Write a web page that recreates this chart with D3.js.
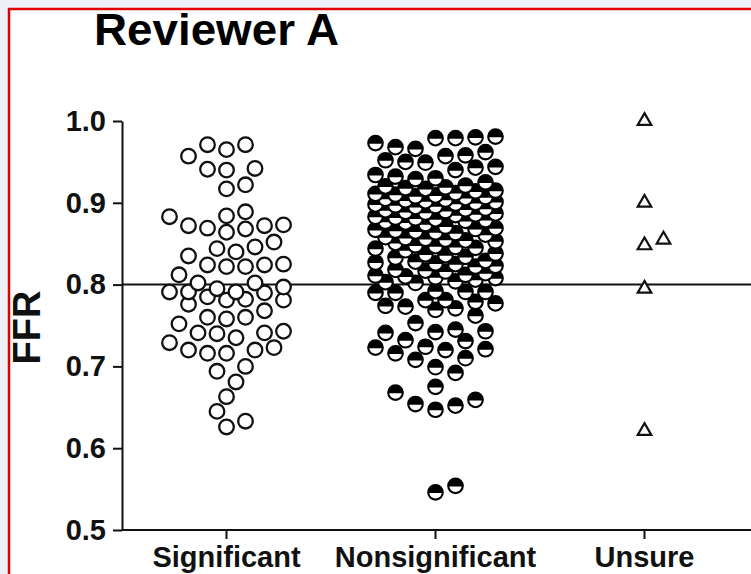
<!DOCTYPE html>
<html><head><meta charset="utf-8">
<script src="https://cdn.jsdelivr.net/npm/d3@7/dist/d3.min.js"></script>
<style>
html,body{margin:0;padding:0;background:#eef2f8;}
svg{display:block;font-family:"Liberation Sans",Arial,sans-serif;}
</style></head>
<body><svg id="c" width="751" height="574"></svg>
<script>
const title = "Reviewer A";
const yLabel = "FFR";
const categories = ["Significant", "Nonsignificant", "Unsure"];
const yTicks = [0.5, 0.6, 0.7, 0.8, 0.9, 1.0];
const cutoff = 0.8;

const significant = [
  0.971,0.965,0.971,0.957,0.941,0.940,0.942,0.917,0.922,
  0.883,0.889,0.884,0.872,0.869,0.864,0.868,0.872,0.873,
  0.846,0.840,0.835,0.844,0.852,0.825,0.822,0.824,0.822,0.824,
  0.812,0.802,0.802,0.797,0.795,0.791,0.791,0.790,0.791,
  0.782,0.781,0.776,0.781,0.785,0.768,0.760,0.752,0.758,0.760,
  0.740,0.741,0.743,0.741,0.729,0.720,0.716,0.720,0.723,0.735,0.716,
  0.694,0.700,0.681,0.663,0.645,0.626,0.633
];

const nonsignificant = [
  0.980,0.979,0.968,0.973,0.979,0.981,
  0.962,0.957,0.950,0.949,0.943,0.952,0.958,0.966,
  0.944,0.934,0.930,0.929,0.932,0.940,0.925,
  0.919,0.917,0.921,0.914,0.918,0.915,0.920,
  0.912,0.909,0.907,0.905,0.911,0.904,0.903,0.910,0.902,0.901,0.898,0.906,0.897,0.900,0.896,0.908,0.899,0.895,
  0.893,0.891,0.888,0.892,0.887,0.890,0.886,0.889,0.885,
  0.883,0.880,0.879,0.882,0.877,0.881,0.876,0.878,0.874,
  0.871,0.869,0.866,0.868,0.864,0.867,0.863,0.865,0.861,
  0.858,0.856,0.854,0.857,0.853,0.855,0.851,
  0.848,0.846,0.844,0.847,0.842,0.845,
  0.838,0.836,0.834,0.837,0.833,
  0.829,0.827,0.825,0.828,0.823,0.826,0.822,
  0.818,0.816,0.814,0.817,0.812,
  0.811,0.810,0.808,0.803,0.802,0.809,0.806,0.804,
  0.791,0.790,0.781,0.779,0.791,0.781,0.790,0.792,
  0.774,0.771,0.762,0.769,0.773,0.777,
  0.753,0.743,0.741,0.731,0.745,0.732,0.742,
  0.721,0.716,0.708,0.723,0.724,0.720,0.710,0.699,0.692,
  0.675,0.668,0.659,0.652,0.647,0.654,
  0.546,0.554
];

const unsure = [1.0, 0.90, 0.848, 0.855, 0.795, 0.621];

const svg = d3.select("#c");
const W = 751, H = 574;
const mLeft = 122, mRight = 749, mTop = 121, mBottom = 530;

// frame
svg.append("rect").attr("x", 9).attr("y", 9).attr("width", W + 20).attr("height", H + 20)
  .attr("fill", "#fff").attr("stroke", "#e00000").attr("stroke-width", 2.5);

const x = d3.scaleBand().domain(categories).range([mLeft, mRight]);
const y = d3.scaleLinear().domain([0.5, 1.0]).range([mBottom, mTop]);
const cx = c => x(c) + x.bandwidth() / 2;

// title
svg.append("text").attr("x", 94).attr("y", 45).attr("font-size", 45).attr("font-weight", "bold")
  .attr("fill", "#000").attr("textLength", 245).attr("lengthAdjust", "spacingAndGlyphs").text(title);

// y axis
const yAxis = svg.append("g").attr("transform", `translate(${mLeft},0)`)
  .call(d3.axisLeft(y).tickValues(yTicks).tickFormat(d3.format(".1f")).tickSize(9).tickSizeOuter(0).tickPadding(7));
yAxis.select(".domain").attr("stroke", "#111").attr("stroke-width", 2);
yAxis.selectAll(".tick line").attr("stroke", "#111").attr("stroke-width", 2);
yAxis.selectAll(".tick text").attr("font-size", 29).attr("font-weight", "bold").attr("fill", "#111")
  .attr("font-family", "Liberation Sans, Arial, sans-serif");

// x axis
const xAxis = svg.append("g").attr("transform", `translate(0,${mBottom})`)
  .call(d3.axisBottom(x).tickSize(9).tickSizeOuter(0).tickPadding(7));
xAxis.select(".domain").attr("stroke", "#111").attr("stroke-width", 2)
  .attr("d", `M${mLeft},0H${W}`);
xAxis.selectAll(".tick line").attr("stroke", "#111").attr("stroke-width", 2);
xAxis.selectAll(".tick text").attr("font-size", 29).attr("font-weight", "bold").attr("fill", "#111")
  .attr("font-family", "Liberation Sans, Arial, sans-serif");

// y label
svg.append("text").attr("transform", `translate(40,${(mTop + mBottom) / 2 + 2}) rotate(-90)`)
  .attr("text-anchor", "middle").attr("font-size", 38).attr("font-weight", "bold").attr("fill", "#111")
  .text(yLabel);

// cutoff line
svg.append("line").attr("x1", mLeft).attr("x2", W).attr("y1", y(cutoff)).attr("y2", y(cutoff))
  .attr("stroke", "#111").attr("stroke-width", 2);

// beeswarm layout (deterministic)
function swarm(values, center, step, maxK, minDist) {
  const sorted = values.slice().sort((a, b) => a - b);
  const placed = [];
  sorted.forEach(v => {
    const py = y(v);
    let best = center, bestD = -1, done = false;
    for (let k = 0; k <= maxK && !done; k++) {
      const cands = k === 0 ? [0] : [k, -k];
      for (const c of cands) {
        const px = center + c * step;
        let md = Infinity;
        for (const q of placed) {
          const d = Math.hypot(q.x - px, q.y - py);
          if (d < md) md = d;
        }
        if (md >= minDist) { best = px; done = true; break; }
        if (md > bestD) { bestD = md; best = px; }
      }
    }
    placed.push({ x: best, y: py, v });
  });
  return placed;
}

const r = 7.3;
const sigPts = swarm(significant, cx("Significant"), 9.5, 6, 17.5);
svg.append("g").selectAll("circle").data(sigPts).join("circle")
  .attr("cx", d => d.x).attr("cy", d => d.y).attr("r", r)
  .attr("fill", "#fff").attr("stroke", "#111").attr("stroke-width", 2.3);

const nsPts = swarm(nonsignificant, cx("Nonsignificant"), 10, 6, 17.5);
const ng = svg.append("g").selectAll("g").data(nsPts).join("g")
  .attr("transform", d => `translate(${d.x},${d.y})`);
ng.append("circle").attr("r", r).attr("fill", "#fff").attr("stroke", "#000").attr("stroke-width", 2.1);
const ch = 0.6, hw = Math.sqrt(r * r - ch * ch);
ng.append("path").attr("d", `M${-hw},${ch} A${r},${r} 0 1 1 ${hw},${ch} Z`).attr("fill", "#000");

const unPts = swarm(unsure, cx("Unsure"), 9.5, 4, 17.5);
svg.append("g").selectAll("path").data(unPts).join("path")
  .attr("transform", d => `translate(${d.x},${d.y})`)
  .attr("d", d3.symbol().type(d3.symbolTriangle).size(80))
  .attr("fill", "#fff").attr("stroke", "#111").attr("stroke-width", 2.2);
</script></body></html>
